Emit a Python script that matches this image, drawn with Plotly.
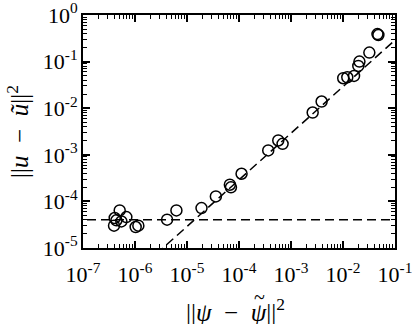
import plotly.graph_objects as go

# Error pairs (||psi - psi~||^2, ||u - u~||^2)
psi_err = [
    4.07e-7, 3.95e-7, 5.08e-7, 4.39e-7, 5.47e-7, 6.82e-7, 1.03e-6, 1.16e-6,
    4.14e-6, 6.26e-6, 1.90e-5, 3.59e-5, 6.67e-5, 7.0e-5, 1.12e-4, 3.65e-4,
    5.69e-4, 6.89e-4, 2.61e-3, 3.88e-3, 1.01e-2, 1.21e-2, 1.63e-2, 2.07e-2,
    1.97e-2, 3.21e-2, 4.79e-2, 4.6e-2,
]
u_err = [
    4.40e-5, 3.01e-5, 6.41e-5, 3.92e-5, 3.72e-5, 4.61e-5, 2.82e-5, 3.01e-5,
    4.05e-5, 6.41e-5, 7.20e-5, 1.28e-4, 2.28e-4, 2.0e-4, 3.92e-4, 1.24e-3,
    2.03e-3, 1.72e-3, 8.07e-3, 1.39e-2, 4.40e-2, 4.61e-2, 4.93e-2, 1.0e-1,
    8.07e-2, 1.56e-1, 3.72e-1, 3.9e-1,
]

# reference lines: noise floor and linear fit u = k * psi
floor_level = 4.05e-5
fit_gain = 2.9
line_x = [1e-8, 1e0]

x_decades = [-7, -6, -5, -4, -3, -2, -1]
y_decades = [-5, -4, -3, -2, -1, 0]

SERIF = 'Liberation Serif'


def minor_vals(decades):
    return [k * 10.0 ** e for e in decades[:-1] for k in range(2, 10)]


fig = go.Figure()

fig.add_trace(go.Scatter(
    x=line_x, y=[floor_level] * len(line_x),
    mode='lines', line=dict(color='black', width=1.5, dash='9px,5px'),
    showlegend=False,
))
fig.add_trace(go.Scatter(
    x=line_x, y=[fit_gain * v for v in line_x],
    mode='lines', line=dict(color='black', width=1.5, dash='9px,5px'),
    showlegend=False,
))
fig.add_trace(go.Scatter(
    x=psi_err, y=u_err, mode='markers',
    marker=dict(symbol='circle-open', size=11, color='black',
                line=dict(width=1.5, color='black')),
    showlegend=False,
))

axis_common = dict(
    type='log', automargin=False,
    showgrid=False, zeroline=False,
    showline=True, linecolor='black', linewidth=2, mirror='ticks',
    ticks='inside', ticklen=7, tickwidth=1.5, tickcolor='black',
    tickfont=dict(family=SERIF, size=22, color='black'),
    tickmode='array', ticklabeloverflow='allow',
)

fig.update_xaxes(
    **axis_common,
    range=[-7, -1],
    tickvals=[10.0 ** e for e in x_decades],
    ticktext=['10<sup>%d</sup>' % e for e in x_decades],
    ticklabelstandoff=6,
    minor=dict(tickmode='array', tickvals=minor_vals(x_decades),
               ticks='inside', ticklen=4, tickwidth=1, tickcolor='black'),
)
fig.update_yaxes(
    **axis_common,
    range=[-5, 0],
    tickvals=[10.0 ** e for e in y_decades],
    ticktext=['10<sup>%d</sup>' % e for e in y_decades],
    ticklabelstandoff=-1,
    minor=dict(tickmode='array', tickvals=minor_vals(y_decades),
               ticks='inside', ticklen=4, tickwidth=1, tickcolor='black'),
)

title_font = dict(family=SERIF, size=25, color='black')
fig.add_annotation(
    text='||<i>ψ</i>  −  <i>ψ</i>||<sup>2</sup>',
    xref='paper', yref='paper', x=0.49, y=-0.265,
    xanchor='center', yanchor='middle', showarrow=False, font=title_font,
)
# tilde over the second psi
fig.add_annotation(
    text='~', xref='paper', yref='paper', x=0.566, y=-0.212,
    xanchor='center', yanchor='middle', showarrow=False,
    font=dict(family=SERIF, size=20, color='black'),
)
fig.add_annotation(
    text='||<i>u</i>  −  <i>ũ</i>||<sup>2</sup>',
    xref='paper', yref='paper', x=-0.21, y=0.5, textangle=-90,
    xanchor='center', yanchor='middle', showarrow=False, font=title_font,
)

fig.update_layout(
    width=415, height=324,
    margin=dict(l=83, r=20, t=15, b=76),
    paper_bgcolor='white', plot_bgcolor='white',
    font=dict(family=SERIF, color='black'),
)

# drop the default 8px page margin so the figure sits at the window corner
fig.write_html('out.html', config={'displayModeBar': False},
               post_script="document.body.style.margin='0';")
